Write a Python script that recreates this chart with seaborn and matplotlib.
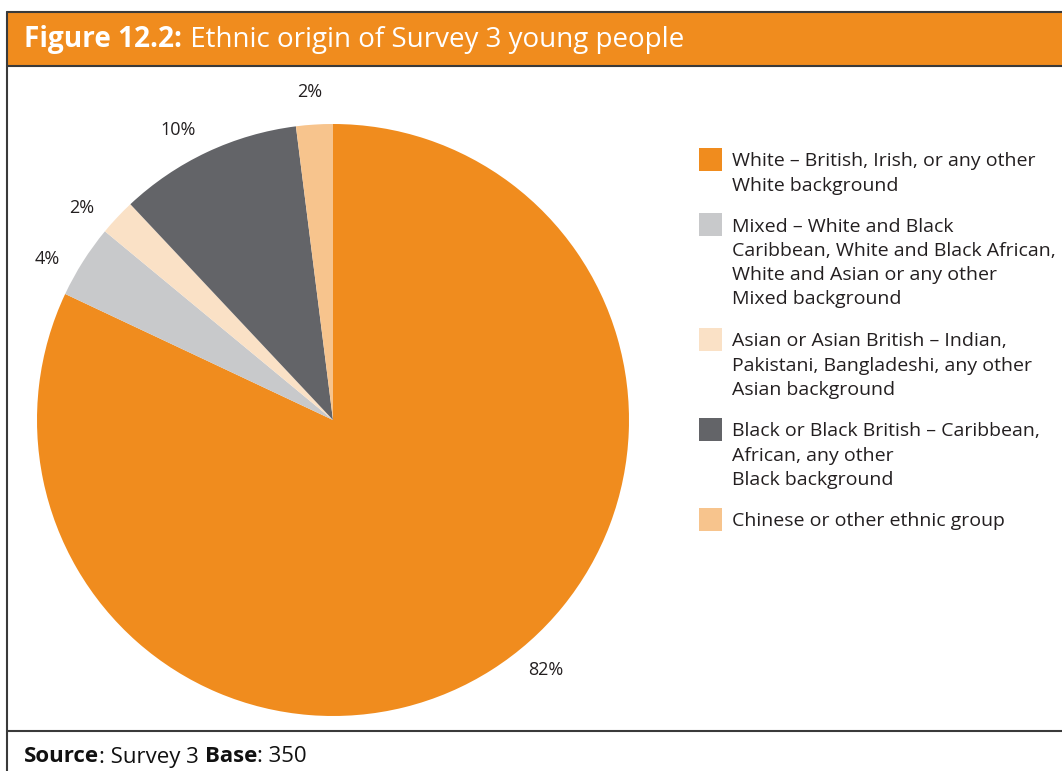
import numpy as np
import pandas as pd
import seaborn as sns
import matplotlib.pyplot as plt
from matplotlib.patches import Rectangle

# data
groups = [
    "White \u2013 British, Irish, or any other\nWhite background",
    "Mixed \u2013 White and Black\nCaribbean, White and Black African,\nWhite and Asian or any other\nMixed background",
    "Asian or Asian British \u2013 Indian,\nPakistani, Bangladeshi, any other\nAsian background",
    "Black or Black British \u2013 Caribbean,\nAfrican, any other\nBlack background",
    "Chinese or other ethnic group",
]
shares = [82, 4, 2, 10, 2]
colours = ["#F08C1E", "#C8C9CB", "#FAE1C6", "#636468", "#F7C48D"]

df = pd.DataFrame({"group": groups, "share": shares, "colour": colours})

sns.set_style("white")
plt.rcParams['font.family'] = ['Open Sans', 'DejaVu Sans']

W, H = 1062, 771
fig = plt.figure(figsize=(W / 100, H / 100), dpi=100)

# background frame drawn in pixel coordinates
bg = fig.add_axes([0, 0, 1, 1])
bg.set_xlim(0, W)
bg.set_ylim(H, 0)
bg.axis("off")
edge = "#3a3a3a"
bg.add_patch(Rectangle((7, 12), W, 54, facecolor="#F08C1E", edgecolor="none"))
bg.plot([7, W], [12, 12], color=edge, lw=1.5)
bg.plot([7, W], [66, 66], color=edge, lw=1.5)
bg.plot([7, 7], [12, H], color=edge, lw=1.5)
bg.plot([7, W], [731, 731], color=edge, lw=1.5)

t1 = bg.text(24, 40, "Figure 12.2:", color="white", fontsize=20.2, fontweight="bold",
             va="center", ha="left")
fig.canvas.draw()
bb = t1.get_window_extent()
bg.text(bb.x1 + 1, 40, " Ethnic origin of Survey 3 young people", color="white",
        fontsize=20, va="center", ha="left")

# source line
src = [("Source", "bold"), (": Survey 3 ", "normal"), ("Base", "bold"), (": 350", "normal")]
x = 24
for s, w in src:
    t = bg.text(x, 757, s, fontsize=16, fontweight=w, va="center", ha="left",
                color="#111111")
    fig.canvas.draw()
    x = t.get_window_extent().x1

# pie
cx, cy, r = 333, 420, 296
lim = 1.12
side = 2 * lim * r
ax = fig.add_axes([(cx - side / 2) / W, (H - cy - side / 2) / H, side / W, side / H])
wedges, _, pcts = ax.pie(df["share"], colors=df["colour"], startangle=90, counterclock=False,
                         autopct="%.0f%%", pctdistance=1.11,
                         wedgeprops=dict(linewidth=0),
                         textprops=dict(fontsize=13, color="#231F20"))
ax.set_xlim(-lim, lim)
ax.set_ylim(-lim, lim)
ax.set_aspect("equal")
ax.axis("off")

# nudge labels round a little, as the original layout does
nudge = [8, 3, 3, 3, 0.5]
for t, d in zip(pcts, nudge):
    px, py = t.get_position()
    a = np.arctan2(py, px) + np.radians(d)
    rr = np.hypot(px, py)
    t.set_position((rr * np.cos(a), rr * np.sin(a)))

# legend with squares aligned to the first line
y = 148
for g, c in zip(df["group"], df["colour"]):
    bg.add_patch(Rectangle((699, y), 23, 23, facecolor=c, edgecolor="none"))
    bg.text(732, y + 4.5, g, fontsize=14, va="top", ha="left", color="#231F20",
            linespacing=1.45)
    y += 25 * (g.count("\n") + 1) + 15

fig.savefig("out.png", dpi=100)
